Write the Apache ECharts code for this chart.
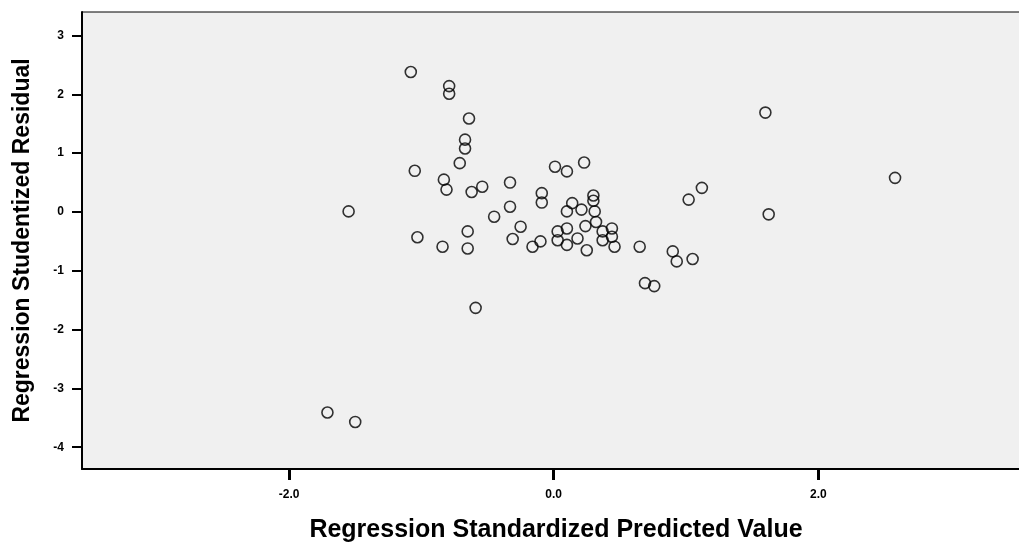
<!DOCTYPE html>
<html>
<head>
<meta charset="utf-8">
<script src="https://cdn.jsdelivr.net/npm/echarts@6/dist/echarts.min.js"></script>
<style>
  html, body { margin: 0; padding: 0; background: #ffffff; }
  #ResidualChart { width: 1019px; height: 542px; }
</style>
</head>
<body>
<div id="ResidualChart"></div>
<script>
  // 标准化预测值 (x) 与 学生化残差 (y)
  var predicted = [
    -1.08, -0.79, -0.79, -0.64, -0.67, -0.67, -0.71, -1.05, -1.55, -1.71,
    -1.50, -0.59, -1.03, -0.84, -0.65, -0.65, -0.83, -0.81, -0.62, -0.54,
    -0.45, -0.33, -0.33, -0.25, -0.31, -0.16, -0.10, -0.09, -0.09, 0.01,
    0.10, 0.23, 0.03, 0.03, 0.30, 0.30, 0.14, 0.10, 0.21, 0.31,
    0.24, 0.32, 0.10, 0.10, 0.18, 0.25, 0.37, 0.44, 0.44, 0.46,
    0.65, 1.12, 1.02, 0.90, 0.93, 1.05, 0.69, 0.76, 1.60, 2.58,
    1.625, 0.37
  ];
  var residual = [
    2.38, 2.14, 2.01, 1.59, 1.23, 1.08, 0.83, 0.70, 0.01, -3.41,
    -3.57, -1.63, -0.43, -0.59, -0.33, -0.62, 0.55, 0.38, 0.34, 0.43,
    -0.08, 0.50, 0.09, -0.25, -0.46, -0.59, -0.50, 0.32, 0.16, 0.77,
    0.69, 0.84, -0.33, -0.48, 0.28, 0.19, 0.15, 0.01, 0.04, 0.01,
    -0.24, -0.17, -0.28, -0.56, -0.45, -0.65, -0.48, -0.28, -0.42, -0.59,
    -0.59, 0.41, 0.21, -0.67, -0.84, -0.80, -1.21, -1.26, 1.69, 0.58,
    -0.04, -0.33
  ];
  var xTicks = [-2, 0, 2];
  var yTicks = [-4, -3, -2, -1, 0, 1, 2, 3];

  var points = predicted.map(function (v, i) { return [v, residual[i]]; });

  var myChart = echarts.init(document.getElementById('ResidualChart'));

  myChart.setOption({
    animation: false,
    backgroundColor: '#ffffff',
    grid: {
      left: 82,
      top: 12,
      right: -11,
      bottom: 73,
      containLabel: false,
      outerBoundsMode: 'none',
      show: true,
      backgroundColor: '#f0f0f0',
      borderColor: '#000000',
      borderWidth: 1
    },
    xAxis: {
      type: 'value',
      min: -3.565,
      max: 3.60,
      name: 'Regression Standardized Predicted Value',
      nameLocation: 'middle',
      nameGap: 49,
      nameTextStyle: {
        fontFamily: 'Liberation Sans',
        fontWeight: 'bold',
        fontSize: 25,
        color: '#000000'
      },
      splitLine: {show: false},
      axisLine: {show: true, onZero: false, lineStyle: {color: '#000000', width: 2}},
      axisTick: {
        show: true,
        length: 11,
        customValues: xTicks,
        lineStyle: {color: '#000000', width: 3}
      },
      axisLabel: {
        customValues: xTicks,
        margin: 20,
        fontFamily: 'Liberation Sans',
        fontWeight: 'bold',
        fontSize: 12,
        color: '#000000',
        formatter: function (v) { return v.toFixed(1); }
      }
    },
    yAxis: {
      type: 'value',
      min: -4.37,
      max: 3.40,
      name: 'Regression Studentized Residual',
      nameLocation: 'middle',
      nameGap: 48,
      nameRotate: 90,
      nameTextStyle: {
        fontFamily: 'Liberation Sans',
        fontWeight: 'bold',
        fontSize: 23,
        color: '#000000'
      },
      splitLine: {show: false},
      axisLine: {show: true, onZero: false, lineStyle: {color: '#000000', width: 2}},
      axisTick: {
        show: true,
        length: 10,
        customValues: yTicks,
        lineStyle: {color: '#000000', width: 2}
      },
      axisLabel: {
        customValues: yTicks,
        margin: 18,
        fontFamily: 'Liberation Sans',
        fontWeight: 'bold',
        fontSize: 12,
        color: '#000000'
      }
    },
    series: [{
      type: 'scatter',
      data: points,
      symbol: 'circle',
      symbolSize: 11,
      itemStyle: {
        color: 'transparent',
        borderColor: '#000000',
        borderWidth: 1.6
      }
    }]
  });
</script>
</body>
</html>
